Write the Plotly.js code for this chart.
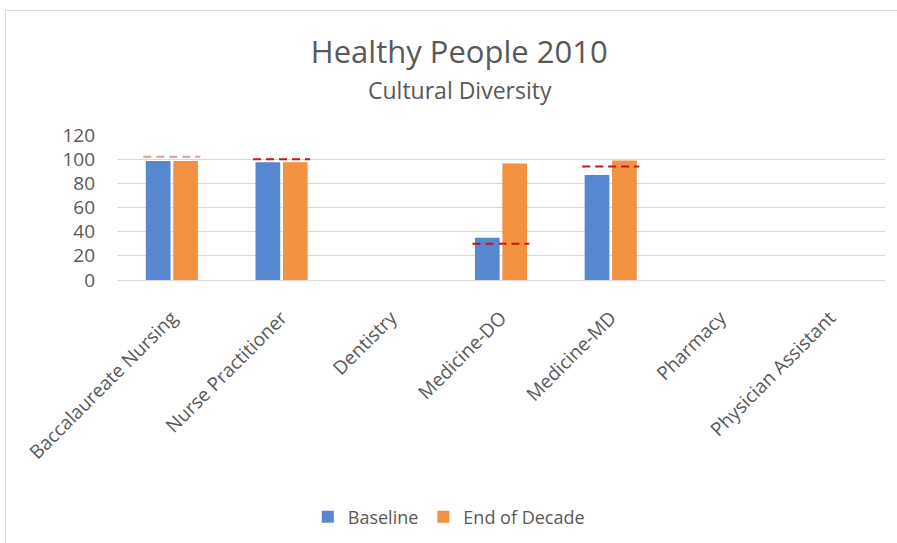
<!DOCTYPE html>
<html><head><meta charset="utf-8">
<script src="https://cdn.plot.ly/plotly-3.0.1.min.js"></script>
<style>
html,body{margin:0;padding:0;background:#fff;}
#wrap{position:relative;width:897px;height:543px;}
#chart{position:absolute;left:0;top:0;width:897px;height:543px;}
#frame{position:absolute;left:5px;top:10px;width:900px;height:540px;border:1px solid #d9d9d9;pointer-events:none;}
</style>
</head><body>
<div id="wrap"><div id="chart"></div><div id="frame"></div></div>
<script>
const categories = ["Baccalaureate Nursing","Nurse Practitioner","Dentistry","Medicine-DO","Medicine-MD","Pharmacy","Physician Assistant"];
const baseline = [98.5, 97.5, null, 35, 87, null, null];
const endOfDecade = [98.5, 97.5, null, 96.5, 99, null, null];
const target = [102, 100, null, 30, 94, null, null];
const tickVals = [0, 20, 40, 60, 80, 100, 120];

const FONT = "Open Sans, sans-serif";
const GREY = "#595959";
const HALF = 0.26;

// target dashed segments on a numeric overlay axis aligned to category indices
function segs(filter){
  const xs = [], ys = [];
  target.forEach((v, i) => {
    if (v === null || !filter(i)) return;
    xs.push(i - HALF, i + HALF, null);
    ys.push(v, v, null);
  });
  return {xs, ys};
}
const lightSeg = segs(i => i === 0);
const darkSeg = segs(i => i !== 0);

const traces = [
  {type:"bar", name:"Baseline", x:categories, y:baseline, marker:{color:"#5687CF"}},
  {type:"bar", name:"End of Decade", x:categories, y:endOfDecade, marker:{color:"#F2913F"}},
  {type:"scatter", mode:"lines", x:lightSeg.xs, y:lightSeg.ys, xaxis:"x2", showlegend:false,
   line:{color:"#E49A9A", width:2.2, dash:"8px,5px"}, hoverinfo:"skip"},
  {type:"scatter", mode:"lines", x:darkSeg.xs, y:darkSeg.ys, xaxis:"x2", showlegend:false,
   line:{color:"#C8141B", width:2, dash:"8px,5px"}, hoverinfo:"skip"}
];

const layout = {
  width:897, height:543,
  paper_bgcolor:"rgba(0,0,0,0)", plot_bgcolor:"rgba(0,0,0,0)",
  margin:{l:117, r:12, t:135, b:263, autoexpand:false},
  font:{family:FONT, color:GREY},
  title:{text:"Healthy People 2010", font:{family:FONT, size:31, color:GREY},
         x:0.512, xanchor:"center", y:0.904, yanchor:"middle"},
  annotations:[{text:"Cultural Diversity", xref:"paper", yref:"paper", x:0.446, y:1.31,
    xanchor:"center", yanchor:"middle", showarrow:false, font:{family:FONT, size:23, color:GREY}}],
  barmode:"group", bargap:0.5, bargroupgap:0.1,
  xaxis:{type:"category", categoryarray:categories, tickangle:-45, showgrid:false,
    showline:false, zeroline:false, ticks:"", ticklabelstandoff:22, automargin:false,
    tickfont:{family:FONT, size:19, color:GREY}, range:[-0.5, 6.5]},
  xaxis2:{overlaying:"x", range:[-0.5, 6.5], visible:false, type:"linear"},
  yaxis:{range:[0,120], tickvals:tickVals, showgrid:true, gridcolor:"#d9d9d9", gridwidth:1,
    zeroline:true, zerolinecolor:"#d9d9d9", showline:false, ticks:"", ticklabelstandoff:21,
    automargin:false, tickfont:{family:FONT, size:19, color:GREY}},
  showlegend:true,
  legend:{orientation:"h", x:0.432, xanchor:"center", y:-1.634, yanchor:"middle",
    font:{family:FONT, size:18, color:GREY}, itemwidth:30, traceorder:"normal"}
};

Plotly.newPlot("chart", traces, layout, {displayModeBar:false, staticPlot:true});
</script>
</body></html>
